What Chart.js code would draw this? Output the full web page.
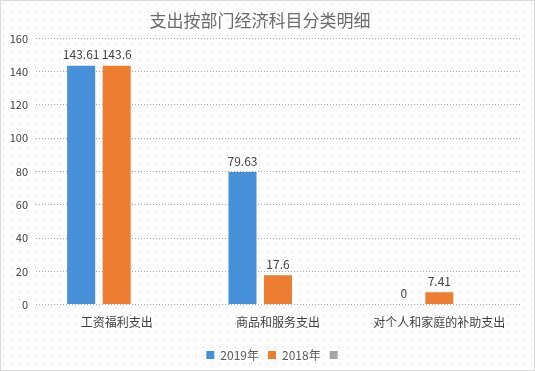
<!DOCTYPE html>
<html>
<head>
<meta charset="utf-8">
<script src="https://cdn.jsdelivr.net/npm/chart.js@4/dist/chart.umd.min.js"></script>
<style>
  html, body { margin:0; padding:0; background:#fff; }
  #wrap { width:535px; height:371px; position:relative; }
</style>
</head>
<body>
<div id="wrap"><canvas id="c" width="535" height="371"></canvas></div>
<script>
// chart data
const categories = ['工资福利支出', '商品和服务支出', '对个人和家庭的补助支出'];
const values2019 = [143.61, 79.63, 0];
const values2018 = [143.6, 17.6, 7.41];
const yTicks = [0, 20, 40, 60, 80, 100, 120, 140, 160];

const FONT = '"Noto Sans CJK SC", "Noto Sans", sans-serif';

// dotted paper background
function dotPattern(ctx){
  const p = document.createElement('canvas');
  p.width = 8; p.height = 8;
  const pc = p.getContext('2d');
  pc.fillStyle = '#fff';
  pc.fillRect(0, 0, 8, 8);
  pc.fillStyle = '#d2d2d2';
  pc.fillRect(3, 3, 1, 1);
  return ctx.createPattern(p, 'repeat');
}

const bgPlugin = {
  id: 'bg',
  afterLayout(chart){
    // legend sits a bit right of centre in the original
    chart.legend.left += 15;
    chart.legend.right += 15;
  },
  beforeDraw(chart){
    const ctx = chart.ctx;
    ctx.save();
    ctx.fillStyle = dotPattern(ctx);
    ctx.fillRect(0, 0, chart.width, chart.height);
    ctx.strokeStyle = '#b5b5b5';
    ctx.setLineDash([1, 1]);
    ctx.lineWidth = 1;
    ctx.strokeRect(0.5, 0.5, chart.width - 1, chart.height - 1);
    ctx.restore();
  }
};

const valueLabels = {
  id: 'valueLabels',
  afterDatasetsDraw(chart){
    const ctx = chart.ctx;
    ctx.save();
    ctx.font = '12px ' + FONT;
    ctx.fillStyle = '#404040';
    ctx.textAlign = 'center';
    ctx.textBaseline = 'bottom';
    [0, 1].forEach(i => {
      chart.getDatasetMeta(i).data.forEach((bar, j) => {
        const v = chart.data.datasets[i].data[j];
        if (v === null) return;
        ctx.fillText(String(v), bar.x, bar.y - 5);
      });
    });
    ctx.restore();
  }
};

new Chart(document.getElementById('c').getContext('2d'), {
  type: 'bar',
  data: {
    labels: categories,
    datasets: [
      { label: '2019年', data: values2019, backgroundColor: '#4590d8' },
      { label: '2018年', data: values2018, backgroundColor: '#ed7d31' },
      { label: '', data: [null, null, null], backgroundColor: '#a5a5a5' }
    ]
  },
  options: {
    responsive: false,
    animation: false,
    devicePixelRatio: 1,
    categoryPercentage: 0.66,
    barPercentage: 0.79,
    layout: { padding: { left: 0, right: 15, top: 10, bottom: 0 } },
    plugins: {
      title: {
        display: true,
        text: '支出按部门经济科目分类明细',
        color: '#6b6b6b',
        font: { family: FONT, size: 17, weight: 'normal' },
        padding: { top: 0, bottom: 8 }
      },
      legend: {
        position: 'bottom',
        labels: {
          color: '#595959',
          font: { family: FONT, size: 12 },
          boxWidth: 8, boxHeight: 8, padding: 9
        }
      },
      tooltip: { enabled: false }
    },
    scales: {
      x: {
        afterFit(s){ s.height += 7; },
        grid: { display: false },
        border: { display: false },
        ticks: { color: '#404040', font: { family: FONT, size: 12 }, padding: 3 }
      },
      y: {
        min: 0, max: 160,
        afterFit(s){ s.width = 36; },
        afterBuildTicks(s){ s.ticks = yTicks.map(v => ({ value: v })); },
        border: { display: false, dash: [1, 2] },
        grid: { color: '#a8a8a8', drawTicks: false, lineWidth: 1 },
        ticks: { color: '#404040', font: { family: FONT, size: 11 }, padding: 8 }
      }
    }
  },
  plugins: [bgPlugin, valueLabels]
});
</script>
</body>
</html>
